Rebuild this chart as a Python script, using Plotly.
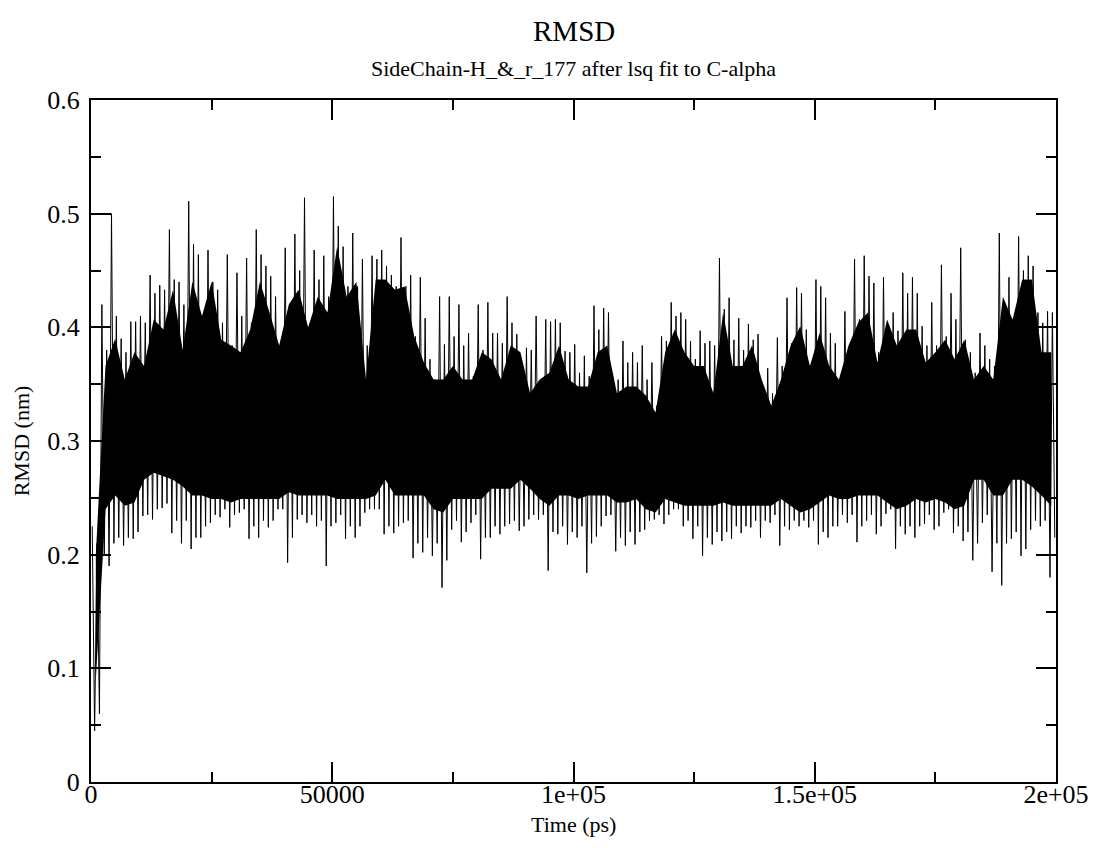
import plotly.graph_objects as go

# RMSD trace in 2000 ps bins (nm)
# peak_hi / peak_lo: tallest and deepest spike in each bin
# peak_hi2 / peak_lo2: next spike up / down in the same bin
# band_hi / band_lo: edges of the solid black core in each bin
bin_start = list(range(0, 200000, 2000))

peak_hi = [
    0.225, 0.42, 0.50, 0.39, 0.405, 0.41, 0.446, 0.437, 0.486, 0.44,
    0.511, 0.464, 0.468, 0.433, 0.464, 0.448, 0.461, 0.486, 0.454, 0.427,
    0.470, 0.482, 0.514, 0.468, 0.463, 0.515, 0.471, 0.483, 0.46, 0.463,
    0.468, 0.446, 0.479, 0.446, 0.444, 0.372, 0.427, 0.427, 0.42, 0.395,
    0.42, 0.422, 0.395, 0.427, 0.394, 0.382, 0.41, 0.407, 0.407, 0.379,
    0.385, 0.375, 0.419, 0.417, 0.356, 0.388, 0.378, 0.384, 0.369, 0.392,
    0.422, 0.413, 0.388, 0.397, 0.388, 0.461, 0.426, 0.408, 0.403, 0.394,
    0.364, 0.391, 0.426, 0.435, 0.398, 0.442, 0.426, 0.386, 0.414, 0.46,
    0.463, 0.439, 0.444, 0.413, 0.448, 0.444, 0.401, 0.422, 0.455, 0.43,
    0.47, 0.378, 0.395, 0.372, 0.483, 0.444, 0.48, 0.463, 0.413, 0.414,
]

peak_lo = [
    0.045, 0.20, 0.21, 0.208, 0.214, 0.234, 0.231, 0.241, 0.219, 0.21,
    0.205, 0.215, 0.228, 0.233, 0.224, 0.237, 0.214, 0.215, 0.224, 0.24,
    0.193, 0.231, 0.228, 0.225, 0.19, 0.228, 0.214, 0.215, 0.237, 0.24,
    0.218, 0.219, 0.228, 0.197, 0.202, 0.199, 0.171, 0.222, 0.211, 0.228,
    0.196, 0.215, 0.218, 0.227, 0.221, 0.231, 0.231, 0.186, 0.218, 0.209,
    0.215, 0.184, 0.216, 0.234, 0.203, 0.208, 0.209, 0.222, 0.231, 0.227,
    0.24, 0.225, 0.214, 0.199, 0.209, 0.212, 0.214, 0.219, 0.224, 0.215,
    0.228, 0.208, 0.222, 0.225, 0.224, 0.209, 0.215, 0.225, 0.228, 0.211,
    0.23, 0.218, 0.236, 0.205, 0.218, 0.215, 0.227, 0.222, 0.237, 0.219,
    0.212, 0.195, 0.228, 0.185, 0.173, 0.214, 0.199, 0.222, 0.225, 0.18,
]

peak_hi2 = [
    0.21, 0.38, 0.41, 0.378, 0.405, 0.404, 0.43, 0.433, 0.442, 0.42,
    0.473, 0.40, 0.44, 0.404, 0.384, 0.41, 0.404, 0.464, 0.445, 0.384,
    0.413, 0.45, 0.40, 0.442, 0.427, 0.489, 0.436, 0.436, 0.384, 0.46,
    0.454, 0.436, 0.436, 0.392, 0.408, 0.354, 0.385, 0.392, 0.384, 0.357,
    0.38, 0.395, 0.386, 0.404, 0.366, 0.38, 0.354, 0.405, 0.404, 0.378,
    0.36, 0.357, 0.398, 0.413, 0.354, 0.369, 0.369, 0.354, 0.331, 0.388,
    0.41, 0.407, 0.372, 0.386, 0.384, 0.416, 0.389, 0.38, 0.389, 0.348,
    0.342, 0.366, 0.386, 0.43, 0.345, 0.436, 0.395, 0.351, 0.384, 0.407,
    0.445, 0.378, 0.389, 0.397, 0.43, 0.43, 0.384, 0.384, 0.392, 0.407,
    0.389, 0.36, 0.384, 0.366, 0.422, 0.407, 0.45, 0.454, 0.404, 0.413,
]

peak_lo2 = [
    0.06, 0.19, 0.215, 0.215, 0.22, 0.235, 0.24, 0.245, 0.23, 0.23,
    0.215, 0.225, 0.235, 0.24, 0.235, 0.24, 0.225, 0.23, 0.23, 0.24,
    0.215, 0.235, 0.235, 0.23, 0.225, 0.235, 0.225, 0.225, 0.24, 0.24,
    0.225, 0.225, 0.23, 0.21, 0.215, 0.21, 0.195, 0.23, 0.22, 0.235,
    0.215, 0.225, 0.225, 0.23, 0.225, 0.235, 0.235, 0.22, 0.225, 0.22,
    0.225, 0.21, 0.225, 0.235, 0.215, 0.22, 0.22, 0.23, 0.235, 0.235,
    0.24, 0.23, 0.225, 0.215, 0.22, 0.22, 0.225, 0.225, 0.23, 0.23,
    0.235, 0.225, 0.23, 0.23, 0.23, 0.22, 0.225, 0.235, 0.235, 0.225,
    0.235, 0.225, 0.24, 0.225, 0.225, 0.225, 0.235, 0.225, 0.24, 0.225,
    0.22, 0.21, 0.235, 0.21, 0.21, 0.22, 0.205, 0.23, 0.23, 0.215,
]

band_hi = [
    0.20, 0.366, 0.39, 0.354, 0.378, 0.366, 0.407, 0.398, 0.433, 0.38,
    0.44, 0.41, 0.44, 0.389, 0.384, 0.378, 0.398, 0.44, 0.413, 0.384,
    0.42, 0.433, 0.40, 0.427, 0.413, 0.471, 0.427, 0.44, 0.354, 0.442,
    0.442, 0.433, 0.436, 0.392, 0.369, 0.354, 0.354, 0.366, 0.354, 0.354,
    0.378, 0.372, 0.354, 0.384, 0.378, 0.342, 0.354, 0.36, 0.384, 0.354,
    0.348, 0.348, 0.378, 0.384, 0.342, 0.348, 0.348, 0.34, 0.325, 0.378,
    0.398, 0.378, 0.366, 0.366, 0.342, 0.413, 0.366, 0.366, 0.384, 0.354,
    0.331, 0.354, 0.384, 0.401, 0.366, 0.395, 0.366, 0.354, 0.384, 0.404,
    0.413, 0.369, 0.407, 0.384, 0.398, 0.398, 0.369, 0.378, 0.389, 0.372,
    0.389, 0.354, 0.366, 0.354, 0.427, 0.407, 0.442, 0.442, 0.378, 0.378,
]

band_lo = [
    0.09, 0.24, 0.252, 0.243, 0.246, 0.266, 0.272, 0.269, 0.266, 0.26,
    0.252, 0.252, 0.249, 0.249, 0.246, 0.249, 0.249, 0.249, 0.249, 0.249,
    0.255, 0.252, 0.252, 0.252, 0.252, 0.249, 0.249, 0.249, 0.249, 0.252,
    0.266, 0.252, 0.252, 0.252, 0.252, 0.240, 0.237, 0.249, 0.249, 0.249,
    0.249, 0.258, 0.258, 0.258, 0.266, 0.258, 0.249, 0.243, 0.252, 0.252,
    0.249, 0.252, 0.252, 0.252, 0.246, 0.246, 0.249, 0.240, 0.237, 0.249,
    0.246, 0.243, 0.243, 0.243, 0.243, 0.246, 0.243, 0.243, 0.243, 0.243,
    0.243, 0.249, 0.243, 0.237, 0.240, 0.246, 0.252, 0.249, 0.249, 0.252,
    0.252, 0.252, 0.246, 0.240, 0.243, 0.249, 0.246, 0.249, 0.246, 0.240,
    0.243, 0.266, 0.266, 0.252, 0.252, 0.266, 0.266, 0.260, 0.252, 0.243,
]

x_tick_vals = [0, 50000, 100000, 150000, 200000]
x_tick_text = ["0", "50000", "1e+05", "1.5e+05", "2e+05"]

serif = "Liberation Serif, Times New Roman, serif"

# spikes: up / down / up / down inside every bin
spike_t = []
spike_v = []
for t, h1, l1, h2, l2 in zip(bin_start, peak_hi, peak_lo, peak_hi2, peak_lo2):
    spike_t += [t + 250, t + 750, t + 1250, t + 1750]
    spike_v += [h1, l1, h2, l2]

band_t = [t + 1000 for t in bin_start]

fig = go.Figure()
fig.add_trace(go.Scatter(x=band_t, y=band_lo, mode="lines",
                         line=dict(width=0, color="black"), showlegend=False))
fig.add_trace(go.Scatter(x=band_t, y=band_hi, mode="lines", fill="tonexty",
                         fillcolor="black", line=dict(width=0, color="black"),
                         showlegend=False))
fig.add_trace(go.Scatter(x=spike_t, y=spike_v, mode="lines",
                         line=dict(width=1, color="black"), showlegend=False))

axis_common = dict(
    ticks="inside", ticklen=20, tickwidth=2, tickcolor="black",
    showline=True, linewidth=2, linecolor="black", mirror="ticks",
    showgrid=False, zeroline=False,
    tickfont=dict(family=serif, size=26, color="black"),
)

fig.update_xaxes(
    range=[0, 200000], tickmode="array", tickvals=x_tick_vals, ticktext=x_tick_text,
    minor=dict(ticks="inside", ticklen=10, tickwidth=2, tickcolor="black",
               dtick=25000, tick0=0, showgrid=False),
    ticklabelstandoff=-12,
    **axis_common,
)
fig.update_yaxes(
    range=[0, 0.6], dtick=0.1, tick0=0,
    minor=dict(ticks="inside", ticklen=10, tickwidth=2, tickcolor="black",
               dtick=0.05, tick0=0, showgrid=False),
    ticklabelstandoff=4,
    title=dict(text="RMSD (nm)", font=dict(family=serif, size=22, color="black"), standoff=12),
    **axis_common,
)

# the page body adds an 8 px margin, so the figure is 8 px smaller and shifted
fig.update_layout(
    width=1093, height=840,
    margin=dict(l=79, r=38, t=92, b=66),
    plot_bgcolor="white", paper_bgcolor="white",
    showlegend=False,
    annotations=[
        dict(text="RMSD", xref="paper", yref="paper", x=0.5, y=1 + 69 / 682,
             showarrow=False, yanchor="middle",
             font=dict(family=serif, size=29, color="black")),
        dict(text="SideChain-H_&_r_177 after lsq fit to C-alpha", xref="paper", yref="paper",
             x=0.5, y=1 + 32 / 682, showarrow=False, yanchor="middle",
             font=dict(family=serif, size=22, color="black")),
        dict(text="Time (ps)", xref="paper", yref="paper", x=0.5, y=-42 / 682,
             showarrow=False, yanchor="middle",
             font=dict(family=serif, size=22, color="black")),
    ],
)

fig.write_html("out.html")
